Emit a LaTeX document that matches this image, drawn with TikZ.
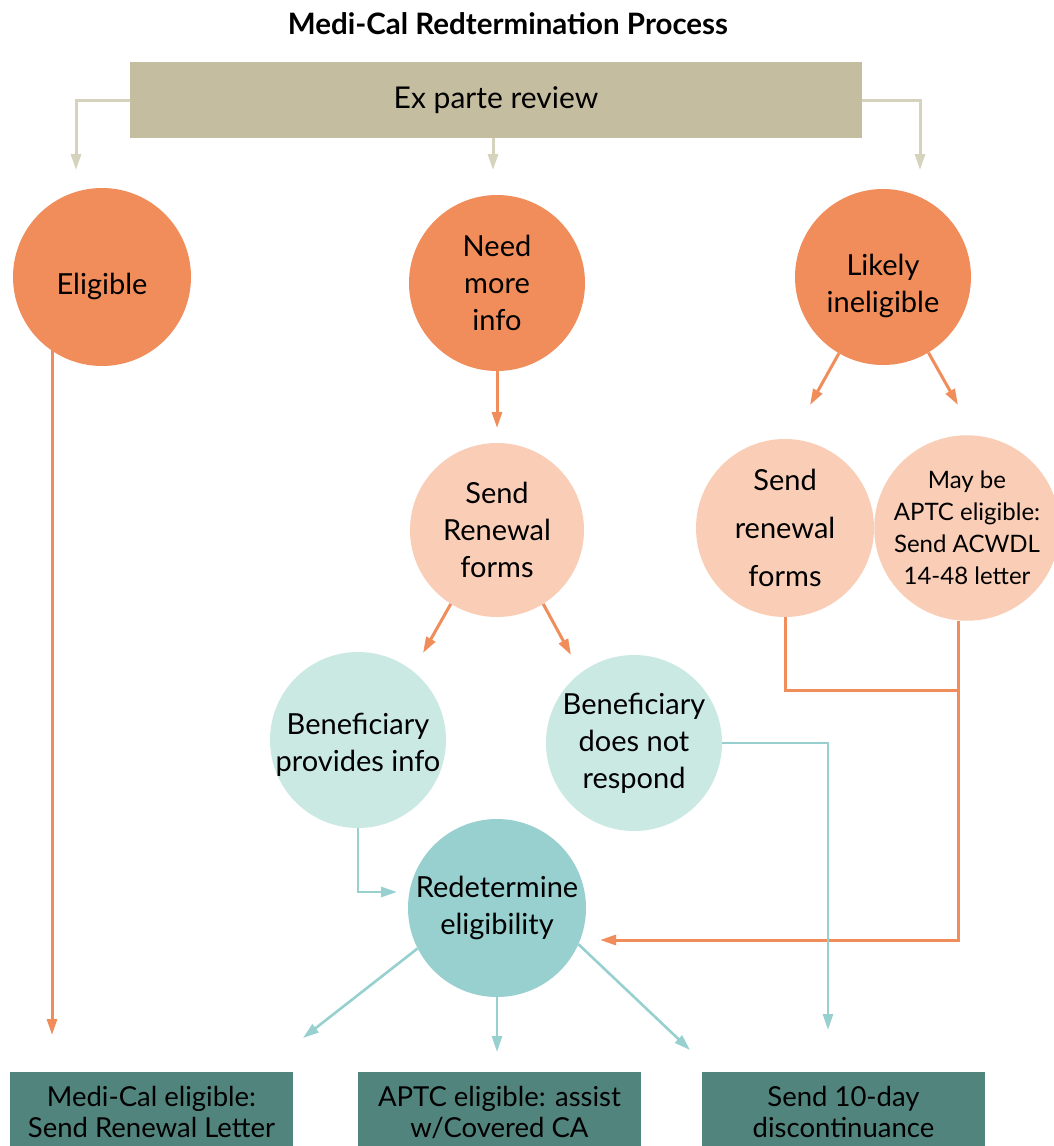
\documentclass[tikz,border=0pt]{standalone}
\usepackage{fontspec}
\setmainfont{Lato}
\usetikzlibrary{arrows.meta,calc}
\definecolor{orng}{HTML}{F08D5B}
\definecolor{lorng}{HTML}{F9CDB6}
\definecolor{lteal}{HTML}{CBE9E3}
\definecolor{teal}{HTML}{97D0CF}
\definecolor{dteal}{HTML}{52847E}
\definecolor{beigebox}{HTML}{C4BD9F}
\definecolor{beigeln}{HTML}{D6D3BD}
\tikzset{
  circ/.style={circle,inner sep=0pt,align=center,font=\fontsize{29}{37}\selectfont},
  ctext/.style={inner sep=0pt,align=center,font=\fontsize{29}{37}\selectfont},
  botbox/.style={rectangle,fill=dteal,minimum width=283pt,minimum height=80pt,inner sep=0pt,align=center,font=\fontsize{27.5}{31}\selectfont},
  tipa/.style={-{Triangle[length=16pt,width=10pt]}},
  bline/.style={draw=beigeln,line width=3pt,tipa},
  oline/.style={draw=orng,line width=3pt,tipa},
  tline/.style={draw=teal,line width=2.6pt,tipa},
}
\begin{document}
\begin{tikzpicture}[x=1pt,y=-1pt]
\useasboundingbox (0,0) rectangle (1054,1146);
\fill[white] (0,0) rectangle (1054,1146);
\node[font=\bfseries\fontsize{29.5}{34}\selectfont] (title) at (508,24) {Medi-Cal Redtermination Process};
\node[fill=beigebox,minimum width=732pt,minimum height=76pt,inner sep=0pt,font=\fontsize{30}{34}\selectfont] (ex) at (496,100) {Ex parte review};

\node[circ,fill=orng,minimum size=178pt] (elig) at (102,277) {};
\node[ctext] (eligt) at (102,286) {Eligible};
\node[circ,fill=orng,minimum size=176pt] (need) at (497,283) {Need\\more\\info};
\node[circ,fill=orng,minimum size=176pt] (likely) at (883,277) {};
\node[ctext] (likelyt) at (883,286) {Likely\\ineligible};

\node[circ,fill=lorng,minimum size=174pt] (send) at (497,530) {Send\\Renewal\\forms};
\node[circ,fill=lorng,minimum size=178pt,font=\fontsize{29}{48}\selectfont] (srf) at (785,528) {Send\\renewal\\forms};
\node[circ,fill=lorng,minimum size=174pt,font=\fontsize{24}{32}\selectfont] (aptc) at (967,528) {May be\\APTC eligible:\\Send ACWDL\\14-48 letter};

\node[circ,fill=lteal,minimum size=176pt] (prov) at (358,740) {};
\node[ctext] (provt) at (358,745) {Beneficiary\\provides info};
\node[circ,fill=lteal,minimum size=176pt] (nr) at (634,743) {Beneficiary\\does not\\respond};

\node[circ,fill=teal,minimum size=178pt] (redet) at (497,908) {Redetermine\\eligibility};

\node[botbox] (b1) at (151.5,1112) {Medi-Cal eligible:\\Send Renewal Letter};
\node[botbox] (b2) at (499.5,1112) {APTC eligible: assist\\w/Covered CA};
\node[botbox] (b3) at (843.5,1112) {Send 10-day\\discontinuance};

% free ends
\coordinate (t1) at (76,170);
\coordinate (t2) at (493,170);
\coordinate (t3) at (920,170);
\coordinate (e1) at (52,1035);
\coordinate (n1) at (497,428);
\coordinate (l1) at (810,405);
\coordinate (l2) at (958,405);
\coordinate (s1) at (423,653);
\coordinate (s2) at (571,655);
\coordinate (r1) at (397,892);
\coordinate (d1) at (828,1030);
\coordinate (j1) at (958,690);
\coordinate (r2) at (600,940);
\coordinate (o1) at (303,1038);
\coordinate (o2) at (497,1052);
\coordinate (o3) at (690,1050);

\draw[bline] (ex.west) -| (t1);
\draw[bline] (t2 |- ex.south) -- (t2);
\draw[bline] (ex.east) -| (t3);

\draw[oline] (e1 |- elig.235.8) -- (e1);
\draw[oline] (need.south) -- (n1);
\draw[oline] (likely.-120.5) -- (l1);
\draw[oline] (likely.-59.4) -- (l2);
\draw[oline] (send.-122.4) -- (s1);
\draw[oline] (send.-58.1) -- (s2);

\draw[draw=orng,line width=3pt] (srf.south) |- (j1);
\draw[oline] (j1 |- aptc.south) |- (r2);

\draw[tline] (prov.south) |- (r1);
\draw[tline] (nr.east) -| (d1);

\draw[tline] (redet.-153.4) -- (o1);
\draw[tline] (redet.south) -- (o2);
\draw[tline] (redet.-24) -- (o3);
\end{tikzpicture}
\end{document}
